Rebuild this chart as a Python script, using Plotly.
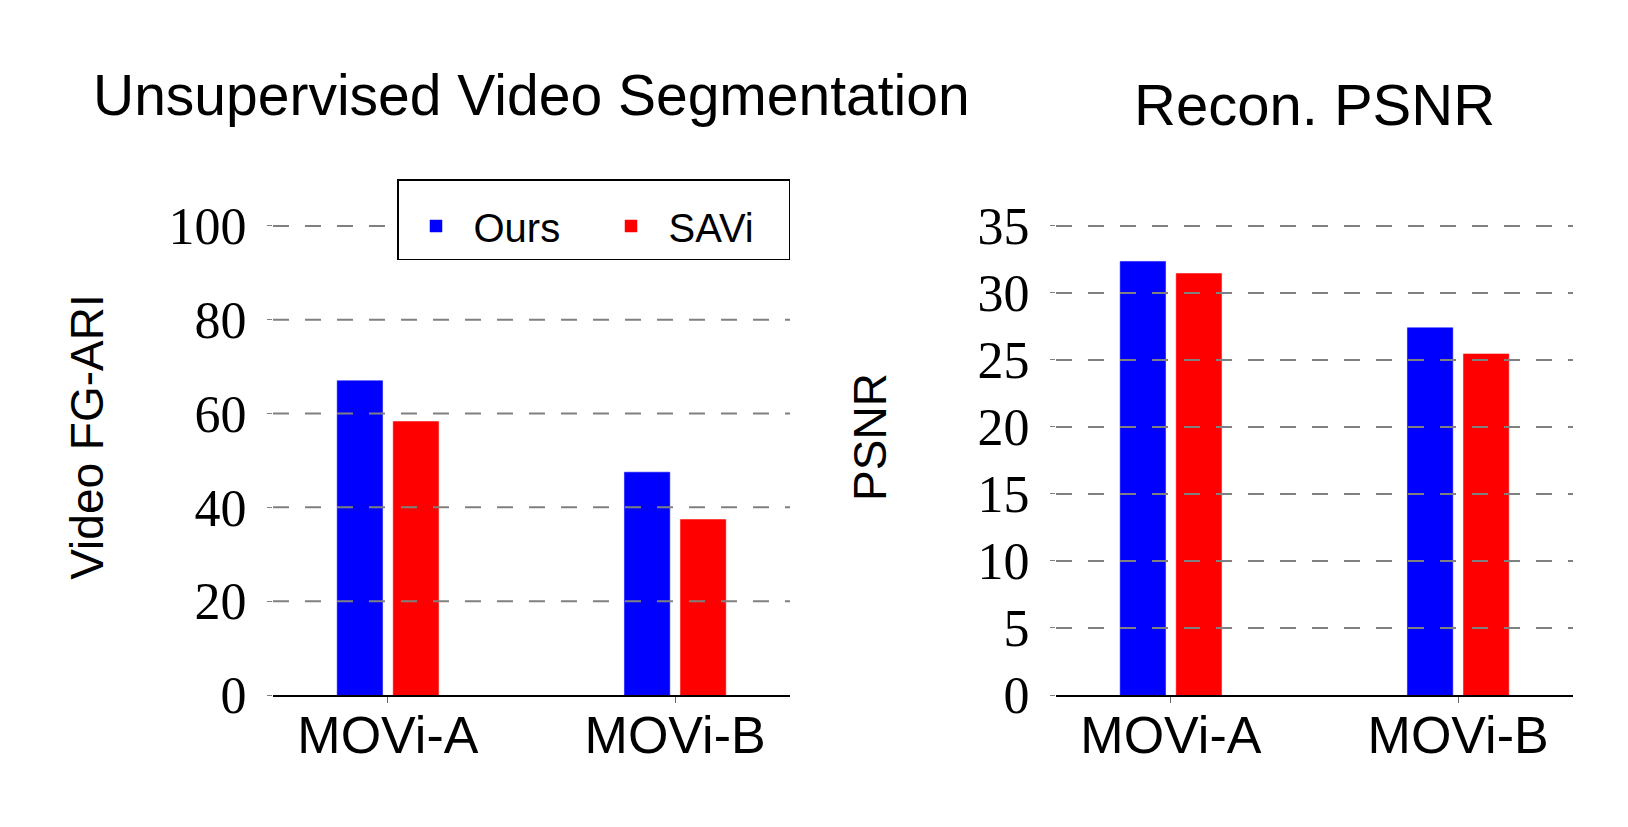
import plotly.graph_objects as go

categories = ["MOVi-A", "MOVi-B"]
series_names = ["Ours", "SAVi"]
series_colors = ["#0000FF", "#FF0000"]

fgari_ours = [67.0, 47.5]
fgari_savi = [58.3, 37.4]
psnr_ours = [32.35, 27.4]
psnr_savi = [31.45, 25.45]

fgari_ticks = [0, 20, 40, 60, 80, 100]
psnr_ticks = [0, 5, 10, 15, 20, 25, 30, 35]

titles = ["Unsupervised Video Segmentation", "Recon. PSNR"]
ytitles = ["Video FG-ARI", "PSNR"]

SANS = "Liberation Sans"
SERIF = "Liberation Serif"

fig = go.Figure()

panels = [
    ("", [fgari_ours, fgari_savi], fgari_ticks, [0, 110], [0, 0.3977], 50, True),
    ("2", [psnr_ours, psnr_savi], psnr_ticks, [0, 38.5], [0.6023, 1.0], 76, False),
]

for axn, vals, ticks, yr, dom, stand, leg in panels:
    for name, color, v in zip(series_names, series_colors, vals):
        fig.add_trace(
            go.Bar(
                x=categories, y=v, name=name,
                marker=dict(color=color, line=dict(color=color, width=0.5)),
                showlegend=leg, xaxis="x" + axn, yaxis="y" + axn,
            )
        )
    # dashed grid lines drawn above the bars
    for t in ticks:
        if t == 0:
            continue
        fig.add_shape(
            type="line", xref=f"x{axn} domain", yref=f"y{axn}",
            x0=0, x1=1, y0=t, y1=t,
            line=dict(color="#808080", width=2, dash="16px,16px"),
            layer="above",
        )
    fig.layout["yaxis" + axn] = dict(
        range=yr, tickvals=ticks, showgrid=False, zeroline=False, showline=False,
        ticks="outside", ticklen=5, tickcolor="#808080", tickwidth=1,
        ticklabelstandoff=10,
        tickfont=dict(family=SERIF, size=52, color="black"),
        title=dict(text=ytitles[0 if axn == "" else 1],
                   font=dict(family=SANS, size=46, color="black"), standoff=stand),
        anchor="x" + axn,
    )
    fig.layout["xaxis" + axn] = dict(
        domain=dom, range=[-0.4, 1.4], showgrid=False, zeroline=False,
        showline=True, linecolor="black", linewidth=2,
        ticks="outside", ticklen=6, tickcolor="#666666", tickwidth=1,
        ticklabelstandoff=-12,
        tickfont=dict(family=SANS, size=52, color="black"),
        layer="above traces", anchor="y" + axn,
    )

fig.add_annotation(text=titles[0], xref="x domain", yref="y domain", x=0.5, y=1,
                   xanchor="center", yanchor="bottom", yshift=50, showarrow=False,
                   font=dict(family=SANS, size=57, color="black"))
fig.add_annotation(text=titles[1], xref="x2 domain", yref="y2 domain", x=0.5, y=1,
                   xanchor="center", yanchor="bottom", yshift=40, showarrow=False,
                   font=dict(family=SANS, size=58, color="black"))

fig.update_layout(
    width=1628, height=827,
    margin=dict(l=265, r=63, t=171, b=140),
    paper_bgcolor="white", plot_bgcolor="white",
    barmode="group", bargap=0.61, bargroupgap=0.19,
    legend=dict(
        orientation="h", x=0.3977, y=1, xanchor="right", yanchor="top",
        bordercolor="black", borderwidth=1.5, bgcolor="white",
        font=dict(family=SANS, size=40, color="black"),
        entrywidth=115, itemwidth=65,
        title=dict(text="&nbsp;", side="top", font=dict(size=10)),
    ),
)

fig.write_html("out.html")
